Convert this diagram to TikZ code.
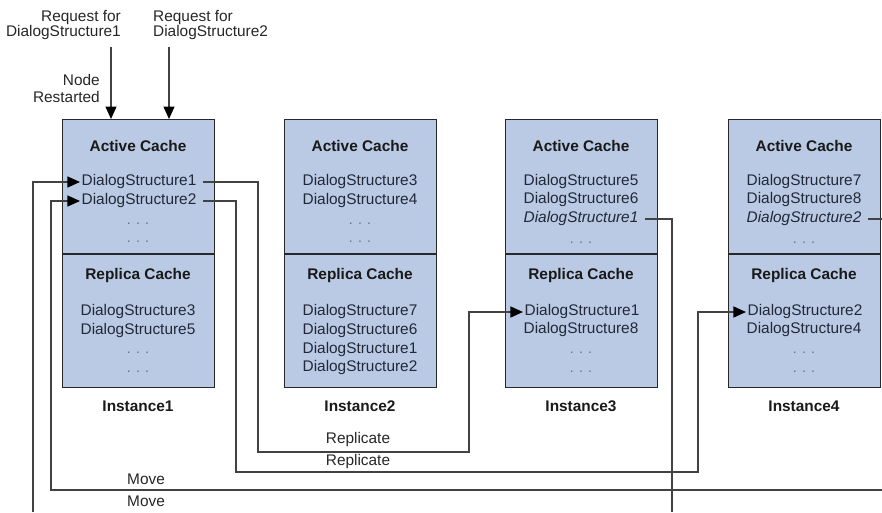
\documentclass[tikz,border=0pt]{standalone}
\usepackage{fontspec}
\setmainfont{Liberation Sans}
\usetikzlibrary{arrows.meta}
\definecolor{cachefill}{RGB}{186,202,228}
\definecolor{boxline}{RGB}{40,40,40}
\definecolor{itemtext}{RGB}{34,40,56}
\definecolor{dotgray}{RGB}{105,114,132}
\definecolor{wirecol}{RGB}{66,66,66}

\begin{document}
\begin{tikzpicture}[x=1pt,y=-1pt,
  cachebox/.style={draw=boxline, fill=cachefill, line width=1.4pt,
    minimum width=152pt, minimum height=268pt, anchor=north west, inner sep=0pt},
  item/.style={font=\fontsize{15.4}{15}\selectfont, text=itemtext, inner sep=1.5pt,
    text height=10.5pt, text depth=3pt},
  itemit/.style={item, font=\fontsize{15.4}{15}\selectfont\itshape},
  head/.style={font=\fontsize{15.4}{15}\selectfont\bfseries, text=black!90, inner sep=2pt},
  inst/.style={font=\fontsize{15.4}{15}\selectfont\bfseries, text=black!90, inner sep=2pt},
  dots/.style={font=\fontsize{14}{14}\selectfont, text=dotgray, inner sep=1pt},
  lbl/.style={font=\fontsize{15.4}{15}\selectfont, text=black!85, inner sep=1pt},
  divider/.style={draw=boxline, line width=1.2pt},
  wire/.style={draw=wirecol, line width=1.3pt},
  arr/.style={wire, -{Triangle[length=12.5pt,width=11pt,color=black]}},
]
\useasboundingbox (0,0) rectangle (882,512);

% ---------- cache boxes ----------
\node[cachebox] (i1) at (62,119) {};
\node[cachebox] (i2) at (284,119) {};
\node[cachebox] (i3) at (505,119) {};
\node[cachebox] (i4) at (728,119) {};
\draw[divider] (62,254) -- (214,254);
\draw[divider] (284,254) -- (436,254);
\draw[divider] (505,254) -- (657,254);
\draw[divider] (728,254) -- (880,254);

% ---------- Instance1 ----------
\node[head] (h1a) at (138,146) {Active Cache};
\node[item] (a1s1) at (139,182) {DialogStructure1};
\node[item] (a1s2) at (139,201) {DialogStructure2};
\node[dots] (a1d1) at (138,224) {. . .};
\node[dots] (a1d2) at (138,242) {. . .};
\node[head] (h1r) at (138,276) {Replica Cache};
\node[item] (r1s1) at (138,312) {DialogStructure3};
\node[item] (r1s2) at (138,331) {DialogStructure5};
\node[dots] (r1d1) at (138,353) {. . .};
\node[dots] (r1d2) at (138,372) {. . .};
\node[inst] (n1) at (138,406) {Instance1};

% ---------- Instance2 ----------
\node[head] (h2a) at (360,146) {Active Cache};
\node[item] (a2s1) at (360,182) {DialogStructure3};
\node[item] (a2s2) at (360,201) {DialogStructure4};
\node[dots] (a2d1) at (360,224) {. . .};
\node[dots] (a2d2) at (360,242) {. . .};
\node[head] (h2r) at (360,276) {Replica Cache};
\node[item] (r2s1) at (360,312) {DialogStructure7};
\node[item] (r2s2) at (360,331) {DialogStructure6};
\node[item] (r2s3) at (360,350) {DialogStructure1};
\node[item] (r2s4) at (360,368) {DialogStructure2};
\node[inst] (n2) at (360,406) {Instance2};

% ---------- Instance3 ----------
\node[head] (h3a) at (581,146) {Active Cache};
\node[item] (a3s1) at (581,182) {DialogStructure5};
\node[item] (a3s2) at (581,200) {DialogStructure6};
\node[itemit] (a3s3) at (581,219) {DialogStructure1};
\node[dots] (a3d1) at (581,243) {. . .};
\node[head] (h3r) at (581,276) {Replica Cache};
\node[item] (r3s1) at (582,312) {DialogStructure1};
\node[item] (r3s2) at (581,330) {DialogStructure8};
\node[dots] (r3d1) at (581,353) {. . .};
\node[dots] (r3d2) at (581,372) {. . .};
\node[inst] (n3) at (581,406) {Instance3};

% ---------- Instance4 ----------
\node[head] (h4a) at (804,146) {Active Cache};
\node[item] (a4s1) at (804,182) {DialogStructure7};
\node[item] (a4s2) at (804,200) {DialogStructure8};
\node[itemit] (a4s3) at (804,219) {DialogStructure2};
\node[dots] (a4d1) at (804,243) {. . .};
\node[head] (h4r) at (804,276) {Replica Cache};
\node[item] (r4s1) at (805,312) {DialogStructure2};
\node[item] (r4s2) at (804,330) {DialogStructure4};
\node[dots] (r4d1) at (804,353) {. . .};
\node[dots] (r4d2) at (804,372) {. . .};
\node[inst] (n4) at (804,406) {Instance4};

% ---------- incoming requests ----------
\node[lbl, align=right, anchor=east, font=\fontsize{15.4}{15}\selectfont] (req1) at (122,25.5)
  {Request for\\DialogStructure1};
\node[lbl, align=left, anchor=west, font=\fontsize{15.4}{15}\selectfont] (req2) at (152,25.5)
  {Request for\\DialogStructure2};
\node[lbl, align=right, anchor=east, font=\fontsize{15.4}{16.5}\selectfont] (rst) at (101,88.5)
  {Node\\Restarted};
\coordinate (q1) at (111,47);
\coordinate (q2) at (169,47);
\draw[arr] (q1) -- (q1 |- i1.north);
\draw[arr] (q2) -- (q2 |- i1.north);

% ---------- replication paths ----------
\coordinate (p1a) at (258,452);
\coordinate (p1b) at (469,452);
\draw[arr] ([xshift=5pt]a1s1.east) -| (p1a) -- (p1b) |- (r3s1.west);
\node[lbl] (rep1) at (358,440) {Replicate};

\coordinate (p2a) at (236,472);
\coordinate (p2b) at (698,472);
\draw[arr] ([xshift=5pt]a1s2.east) -| (p2a) -- (p2b) |- (r4s1.west);
\node[lbl] (rep2) at (358,462) {Replicate};

% ---------- move paths ----------
\coordinate (m1a) at (672,512);
\coordinate (m1b) at (33,512);
\draw[wire] ([xshift=5pt]a3s3.east) -| (m1a);
\draw[arr] (m1b) |- (a1s1.west);

\coordinate (m2a) at (882,490);
\coordinate (m2b) at (51,490);
\draw[wire] ([xshift=5pt]a4s3.east) -- (a4s3.east -| m2a);
\draw[arr] (m2a) -- (m2b) |- (a1s2.west);
\node[lbl] (mv1) at (146,479) {Move};
\node[lbl] (mv2) at (146,501) {Move};

\end{tikzpicture}
\end{document}
